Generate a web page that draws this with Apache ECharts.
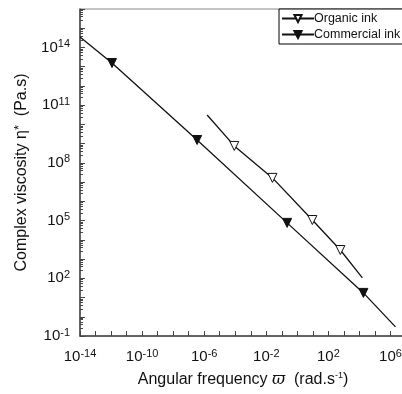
<!DOCTYPE html>
<html>
<head>
<meta charset="utf-8">
<script src="https://cdn.jsdelivr.net/npm/echarts@6/dist/echarts.min.js"></script>
<style>html,body{margin:0;padding:0;background:#fff}#c{width:402px;height:394px}</style>
</head>
<body>
<div id="c"></div>
<script>
// Data (angular frequency in rad/s, complex viscosity in Pa.s)
const seriesNames = ['Organic ink', 'Commercial ink'];
const organicFreq = [1.55e-6, 8.7e-5, 0.025, 9.3, 590, 1.55e4];
const organicVisc = [3.1e10, 7.6e8, 1.66e7, 1.07e5, 2950, 105];
const organicMarked = [false, true, true, true, true, false];
const commercialFreq = [1e-14, 1.15e-12, 3.5e-7, 0.22, 1.8e4, 2.1e6];
const commercialVisc = [3.5e14, 1.55e13, 1.55e9, 7.6e4, 17.4, 0.3];
const commercialMarked = [false, true, true, true, true, false];
const xLabelExponents = [-14, -10, -6, -2, 2, 6];
const yLabelExponents = [-1, 2, 5, 8, 11, 14];

function build(fx, fy, marks) {
  return fx.map((x, i) => ({ value: [x, fy[i]], symbol: marks[i] ? 'triangle' : 'none' }));
}
function expOf(v) { return Math.round(Math.log10(v)); }

const chart = echarts.init(document.getElementById('c'));
const font = 'Liberation Sans, Arial, sans-serif';
const tickRich = {
  b: { fontSize: 15, fontFamily: font, color: '#111', lineHeight: 18 },
  s: { fontSize: 11, fontFamily: font, color: '#111', lineHeight: 8, verticalAlign: 'top' }
};
chart.setOption({
  animation: false,
  backgroundColor: '#fff',
  grid: { left: 80, top: 9, width: 326, height: 327, outerBoundsMode: 'none', containLabel: false,
          show: true, borderColor: '#888', borderWidth: 1 },
  legend: {
    left: 279, top: 9, orient: 'vertical',
    data: seriesNames,
    backgroundColor: '#fff', borderColor: '#000', borderWidth: 1,
    padding: [3, 10, 3, 2], itemGap: 3, itemWidth: 32, itemHeight: 9,
    textStyle: { fontSize: 12.5, fontFamily: font, color: '#111', padding: [0, 0, 0, -5] }
  },
  xAxis: {
    type: 'log', logBase: 10, min: 1e-14, max: 1e7, interval: 1,
    name: '{a|Angular frequency }{i|ϖ}{a|  (rad.s}{s|-1}{a|)}',
    nameLocation: 'middle', nameGap: 35,
    nameTextStyle: {
      rich: {
        a: { fontSize: 16, fontFamily: font, color: '#111', lineHeight: 18 },
        i: { fontSize: 16, fontFamily: 'DejaVu Serif', fontStyle: 'italic', color: '#111', lineHeight: 18 },
        s: { fontSize: 9, fontFamily: font, color: '#111', lineHeight: 8, verticalAlign: 'top' }
      }
    },
    axisLine: { show: true, lineStyle: { color: '#444', width: 1.5 } },
    axisTick: { show: true, inside: true, length: 5, lineStyle: { color: '#444' } },
    splitLine: { show: false },
    axisLabel: {
      margin: 12, rich: tickRich,
      formatter: v => { const e = expOf(v); return xLabelExponents.includes(e) ? '{b|10}{s|' + e + '}' : ''; }
    }
  },
  yAxis: {
    type: 'log', logBase: 10, min: 0.1, max: 1e16, interval: 1,
    name: '{a|Complex viscosity η}{s|*}{a|  (Pa.s)}',
    nameLocation: 'middle', nameGap: 49,
    nameTextStyle: {
      rich: {
        a: { fontSize: 16, fontFamily: font, color: '#111', lineHeight: 18 },
        s: { fontSize: 13, fontFamily: font, color: '#111', lineHeight: 8, verticalAlign: 'top' }
      }
    },
    axisLine: { show: true, lineStyle: { color: '#444', width: 1.5 } },
    axisTick: { show: true, inside: true, length: 5, lineStyle: { color: '#444' } },
    minorTick: { show: true, splitNumber: 6, length: 3, lineStyle: { color: '#444' } },
    splitLine: { show: false },
    axisLabel: {
      margin: 10, rich: tickRich,
      formatter: v => { const e = expOf(v); return yLabelExponents.includes(e) ? '{b|10}{s|' + e + '}' : ''; }
    }
  },
  series: [
    {
      name: seriesNames[0], type: 'line', symbol: 'triangle', symbolRotate: 180, symbolSize: 9,
      data: build(organicFreq, organicVisc, organicMarked),
      lineStyle: { color: '#111', width: 1.3 },
      itemStyle: { color: '#fff', borderColor: '#111', borderWidth: 1 }
    },
    {
      name: seriesNames[1], type: 'line', symbol: 'triangle', symbolRotate: 180, symbolSize: 9,
      data: build(commercialFreq, commercialVisc, commercialMarked),
      lineStyle: { color: '#111', width: 1.3 },
      itemStyle: { color: '#111', borderColor: '#111', borderWidth: 1 }
    }
  ]
});
</script>
</body>
</html>
